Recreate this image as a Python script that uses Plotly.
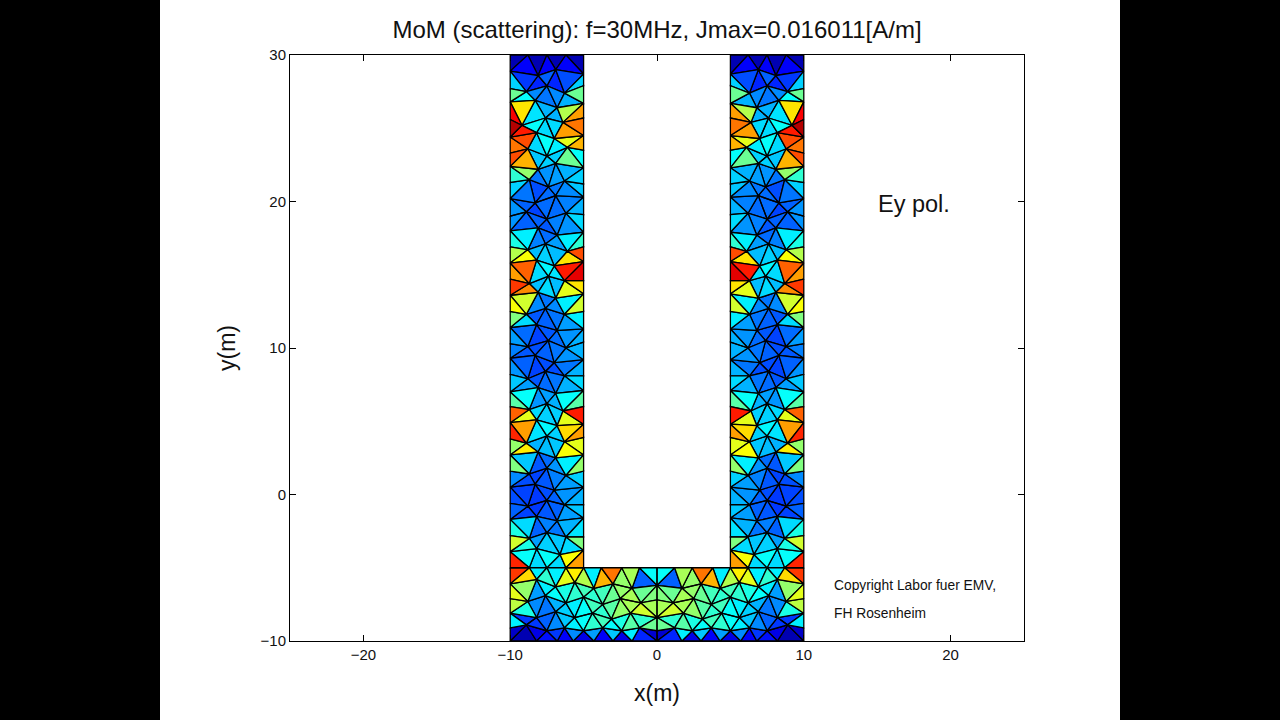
import plotly.graph_objects as go

TITLE = "MoM (scattering): f=30MHz, Jmax=0.016011[A/m]"
X_TICKS = [-20, -10, 0, 10, 20]
Y_TICKS = [-10, 0, 10, 20, 30]

# left leg of the U, one row of nodes per line, top to bottom (metres)
LEG_X = [
    [-10, -8.8, -7.5, -6.2, -5],
    [-10, -8.1, -6.9, -5],
    [-10, -8.9, -7.5, -6.3, -5],
    [-10, -8.3, -6.8, -5],
    [-10, -9.2, -7.6, -6.4, -5],
    [-10, -8.2, -7.0, -5],
    [-10, -8.8, -7.5, -6.1, -5],
    [-10, -8.1, -6.9, -5],
    [-10, -8.7, -7.4, -6.3, -5],
    [-10, -8.3, -6.9, -5],
    [-10, -8.9, -7.5, -6.2, -5],
    [-10, -8.1, -6.8, -5],
    [-10, -8.8, -7.6, -6.1, -5],
    [-10, -8.2, -7.0, -5],
    [-10, -8.7, -7.4, -6.3, -5],
    [-10, -8.1, -6.9, -5],
    [-10, -8.9, -7.6, -6.3, -5],
    [-10, -8.2, -6.8, -5],
    [-10, -8.8, -7.4, -6.2, -5],
    [-10, -8.3, -7.0, -5],
    [-10, -8.8, -7.6, -6.3, -5],
    [-10, -8.1, -6.9, -5],
    [-10, -8.7, -7.5, -6.4, -5],
    [-10, -8.2, -6.8, -5],
    [-10, -8.9, -7.5, -6.3, -5],
    [-10, -8.1, -6.9, -5],
    [-10, -8.7, -7.5, -6.2, -5],
    [-10, -8.3, -7.0, -5],
    [-10, -8.8, -7.5, -6.3, -5],
    [-10, -8.2, -6.8, -5],
    [-10, -8.7, -7.5, -6.2, -5],
    [-10, -8.2, -6.6, -5],
]
LEG_Y = [
    [30.0, 30.0, 30.0, 30.0, 30.0],
    [28.9, 28.6, 29.0, 28.7],
    [27.7, 27.5, 27.9, 27.4, 27.9],
    [26.8, 26.9, 26.4, 26.7],
    [25.6, 25.2, 25.7, 25.4, 25.7],
    [24.4, 24.7, 24.3, 24.5],
    [23.3, 23.6, 23.1, 23.7, 23.5],
    [22.4, 22.2, 22.6, 22.3],
    [21.3, 21.5, 21.0, 21.4, 21.2],
    [20.2, 19.9, 20.4, 20.3],
    [19.0, 19.3, 18.8, 19.2, 19.1],
    [18.0, 18.2, 17.7, 17.9],
    [16.9, 16.7, 17.1, 16.6, 16.9],
    [15.8, 16.0, 15.6, 15.9],
    [14.7, 14.4, 14.9, 14.6, 14.6],
    [13.6, 13.8, 13.4, 13.7],
    [12.5, 12.3, 12.7, 12.3, 12.5],
    [11.4, 11.6, 11.2, 11.3],
    [10.3, 10.1, 10.5, 10.0, 10.4],
    [9.3, 9.5, 9.0, 9.2],
    [8.2, 7.9, 8.4, 8.1, 8.1],
    [7.0, 7.3, 6.9, 7.1],
    [6.0, 5.8, 6.2, 5.7, 6.0],
    [4.9, 5.1, 4.7, 4.8],
    [3.8, 3.5, 4.0, 3.6, 3.9],
    [2.7, 2.9, 2.5, 2.7],
    [1.6, 1.4, 1.8, 1.3, 1.6],
    [0.5, 0.7, 0.3, 0.5],
    [-0.6, -0.8, -0.4, -0.7, -0.7],
    [-1.7, -1.5, -1.8, -1.6],
    [-2.8, -3.0, -2.6, -2.9, -2.9],
    [-3.9, -3.7, -4.1, -3.8],
]

# current density in % of Jmax for the 7 triangles of each leg band, outer edge to inner edge
LEG_J = [
    [5, 12, 5, 12, 5, 12, 5],
    [33, 18, 16, 22, 16, 20, 33],
    [48, 38, 26, 24, 26, 30, 48],
    [88, 65, 35, 30, 30, 55, 72],
    [95, 85, 38, 34, 34, 72, 76],
    [76, 80, 34, 38, 36, 60, 70],
    [80, 70, 32, 33, 33, 48, 38],
    [42, 52, 24, 27, 28, 30, 33],
    [33, 24, 20, 23, 24, 26, 32],
    [27, 22, 19, 23, 23, 25, 30],
    [27, 22, 22, 21, 25, 27, 34],
    [40, 36, 25, 23, 28, 36, 42],
    [55, 62, 31, 33, 31, 65, 80],
    [72, 78, 34, 37, 35, 85, 90],
    [82, 74, 31, 34, 31, 60, 65],
    [62, 58, 26, 24, 26, 36, 58],
    [50, 34, 21, 22, 24, 28, 36],
    [28, 23, 19, 21, 23, 27, 30],
    [25, 21, 20, 22, 24, 27, 30],
    [27, 22, 19, 20, 20, 24, 30],
    [32, 28, 21, 23, 24, 30, 34],
    [46, 38, 27, 28, 30, 38, 46],
    [78, 60, 34, 33, 33, 60, 85],
    [84, 72, 35, 37, 33, 66, 72],
    [52, 64, 30, 31, 32, 62, 60],
    [50, 32, 21, 23, 27, 36, 52],
    [26, 20, 19, 21, 25, 28, 33],
    [20, 19, 18, 20, 22, 27, 30],
    [22, 19, 18, 21, 22, 28, 32],
    [40, 34, 22, 25, 24, 30, 35],
    [58, 40, 28, 33, 32, 34, 50],
    [84, 38, 34, 38, 34, 62, 72],
]

# left half of the base, y=-5 down to y=-10
BASE_X = [
    [-10, -8.7, -7.5, -6.2, -5, -3.8, -2.4, -1.2, 0],
    [-10, -8.2, -6.9, -5.6, -4.3, -3.0, -1.7, 0],
    [-10, -8.8, -7.6, -6.2, -5.0, -3.7, -2.5, -1.1, 0],
    [-10, -8.2, -6.9, -5.6, -4.4, -3.1, -1.8, 0],
    [-10, -8.9, -7.5, -6.3, -5.0, -3.7, -2.4, -1.2, 0],
    [-10, -8.2, -6.8, -5.7, -4.3, -3.0, -1.7, 0],
]
BASE_Y = [
    [-5.0, -5.0, -5.0, -5.0, -5.0, -5.0, -5.0, -5.0, -5.0],
    [-6.1, -5.8, -6.3, -6.0, -6.4, -6.1, -6.4, -6.2],
    [-7.1, -7.3, -6.9, -7.4, -7.0, -7.5, -7.1, -7.4, -7.2],
    [-8.1, -8.4, -8.0, -8.4, -8.1, -8.5, -8.1, -8.4],
    [-9.1, -8.9, -9.3, -9.1, -9.3, -9.1, -9.3, -9.1, -9.3],
    [-10.0, -10.0, -10.0, -10.0, -10.0, -10.0, -10.0, -10.0],
]
BASE_J = [
    [82, 66, 36, 42, 36, 60, 64, 55, 36, 70, 76, 52, 54, 22, 38],
    [60, 52, 28, 36, 38, 40, 42, 44, 42, 44, 48, 52, 54, 48, 50],
    [56, 40, 26, 24, 30, 33, 36, 38, 44, 42, 46, 52, 54, 58, 54],
    [36, 18, 18, 22, 26, 32, 36, 38, 42, 44, 38, 40, 46, 42, 48],
    [7, 5, 10, 14, 18, 12, 26, 10, 28, 12, 32, 10, 36, 16, 8],
]


def jet(percent):
    v = percent / 100
    r = min(max(min(4 * v - 1.5, 4.5 - 4 * v), 0), 1)
    g = min(max(min(4 * v - 0.5, 3.5 - 4 * v), 0), 1)
    b = min(max(min(4 * v + 0.5, 2.5 - 4 * v), 0), 1)
    return f"rgb({r * 255:.0f},{g * 255:.0f},{b * 255:.0f})"


def stitch(xa, ya, xb, yb):
    # triangles between two node rows, left to right, taking the shorter diagonal
    tris = []
    i = j = 0
    while i < len(xa) - 1 or j < len(xb) - 1:
        if i == len(xa) - 1:
            step_a = False
        elif j == len(xb) - 1:
            step_a = True
        else:
            step_a = (xa[i + 1] - xb[j]) ** 2 + (ya[i + 1] - yb[j]) ** 2 <= (xa[i] - xb[j + 1]) ** 2 + (ya[i] - yb[j + 1]) ** 2
        if step_a:
            tris.append(([xa[i], xa[i + 1], xb[j]], [ya[i], ya[i + 1], yb[j]]))
            i += 1
        else:
            tris.append(([xa[i], xb[j + 1], xb[j]], [ya[i], yb[j + 1], yb[j]]))
            j += 1
    return tris


rows_x = LEG_X + [BASE_X[0][:5]]
rows_y = LEG_Y + [BASE_Y[0][:5]]
groups = {}
for k, levels in enumerate(LEG_J):
    for tri, level in zip(stitch(rows_x[k], rows_y[k], rows_x[k + 1], rows_y[k + 1]), levels):
        groups.setdefault(level, []).append(tri)
for k, levels in enumerate(BASE_J):
    for tri, level in zip(stitch(BASE_X[k], BASE_Y[k], BASE_X[k + 1], BASE_Y[k + 1]), levels):
        groups.setdefault(level, []).append(tri)

fig = go.Figure()
for level, tris in sorted(groups.items()):
    xs, ys = [], []
    for tx, ty in tris:
        # the structure is symmetric about x=0, so each triangle is drawn on both sides
        xs += tx + [tx[0], None] + [-v for v in tx] + [-tx[0], None]
        ys += ty + [ty[0], None] + ty + [ty[0], None]
    fig.add_trace(go.Scatter(x=xs, y=ys, mode="lines", fill="toself", fillcolor=jet(level), line=dict(color="black", width=1.3), hoverinfo="skip", showlegend=False))

font = "Liberation Sans, Arial, sans-serif"
fig.update_layout(
    width=1280,
    height=720,
    margin=dict(l=290, r=256, t=55, b=79),
    paper_bgcolor="white",
    plot_bgcolor="white",
    font=dict(family=font, color="#111111"),
    title=dict(text=TITLE, x=657 / 1280, xanchor="center", y=1 - 30 / 720, yanchor="middle", font=dict(size=24)),
)
fig.update_xaxes(
    range=[-25, 25], tickvals=X_TICKS, ticks="inside", ticklen=6, tickcolor="black", mirror="allticks", showline=True, linecolor="black", linewidth=1,
    showgrid=False, zeroline=False, tickfont=dict(size=15), title=dict(text="x(m)", font=dict(size=23), standoff=22),
)
fig.update_yaxes(
    range=[-10, 30], tickvals=Y_TICKS, ticks="inside", ticklen=6, tickcolor="black", mirror="allticks", showline=True, linecolor="black", linewidth=1,
    showgrid=False, zeroline=False, tickfont=dict(size=15), title=dict(text="y(m)", font=dict(size=23), standoff=18),
)
fig.add_annotation(x=17.5, y=19.8, text="Ey pol.", showarrow=False, font=dict(size=23.5))
fig.add_annotation(x=11.9, y=-6.2, text="Copyright Labor fuer EMV,", showarrow=False, xanchor="left", font=dict(size=13.8))
fig.add_annotation(x=11.9, y=-8.1, text="FH Rosenheim", showarrow=False, xanchor="left", font=dict(size=13.8))
# black pillarbox bars of the video frame
for x0, x1 in [(-290 / 734, -130 / 734), (830 / 734, 990 / 734)]:
    fig.add_shape(type="rect", xref="paper", yref="paper", x0=x0, x1=x1, y0=-79 / 586, y1=641 / 586, fillcolor="black", line_width=0)

# the page's default body margin would push the frame 8px off
fig.write_html("out.html", config=dict(displayModeBar=False), post_script="document.body.style.margin='0';")
